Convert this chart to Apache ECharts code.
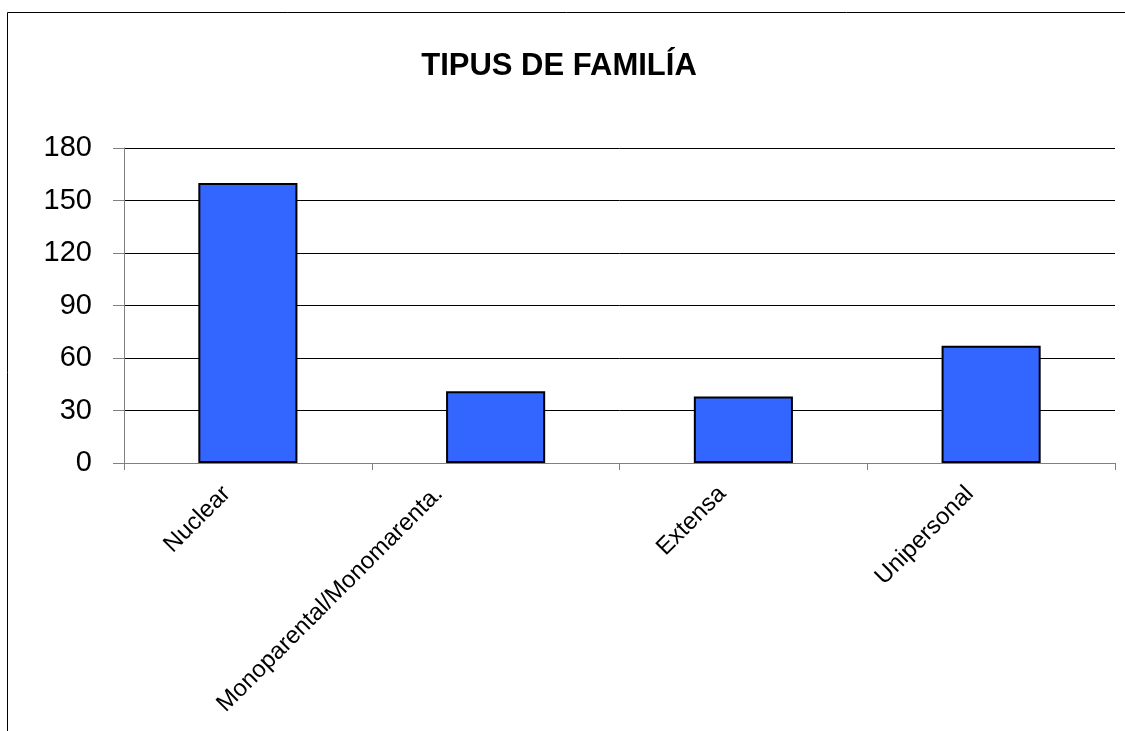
<!DOCTYPE html>
<html>
<head>
<meta charset="utf-8">
<script src="https://cdn.jsdelivr.net/npm/echarts@6/dist/echarts.min.js"></script>
<style>
html,body{margin:0;padding:0;background:#fff;}
#main{width:1125px;height:731px;}
</style>
</head>
<body>
<div id="main"></div>
<script>
const categories = ['Nuclear', 'Monoparental/Monomarenta.', 'Extensa', 'Unipersonal'];
const values = [160, 41, 38, 67];
const yTicks = [0, 30, 60, 90, 120, 150, 180];

const categoryItems = categories.map(function (c, i) {
  return i === 1 ? {value: c, textStyle: {padding: [0, 55, 13, 0], verticalAlign: 'bottom'}} : c;
});

const chart = echarts.init(document.getElementById('main'));
chart.setOption({
  backgroundColor: '#ffffff',
  animation: false,
  title: {
    text: 'TIPUS DE FAMILÍA',
    left: 554, top: 46, textAlign: 'center',
    textStyle: {fontFamily: 'Liberation Sans, Arial', fontSize: 31, fontWeight: 'bold', color: '#000'}
  },
  graphic: [{
    type: 'rect', shape: {x: 7.5, y: 12.5, width: 1130, height: 730},
    style: {fill: 'none', stroke: '#000', lineWidth: 1}, silent: true
  }],
  grid: {left: 124, top: 148, width: 991, height: 315, containLabel: false, outerBoundsMode: 'none'},
  xAxis: {
    type: 'category', data: categoryItems,
    axisLine: {lineStyle: {color: '#808080', width: 1}},
    axisTick: {show: true, length: 7, alignWithLabel: false, lineStyle: {color: '#808080'}},
    axisLabel: {rotate: 45, fontFamily: 'Liberation Sans, Arial', fontSize: 24, color: '#000', margin: 6, padding: [0, 30, 0, 0], interval: 0}
  },
  yAxis: {
    type: 'value', min: yTicks[0], max: yTicks[yTicks.length - 1], interval: 30,
    axisLine: {show: true, lineStyle: {color: '#808080', width: 1}},
    axisTick: {show: true, length: 11, lineStyle: {color: '#808080'}},
    splitLine: {lineStyle: {color: '#000', width: 1}},
    axisLabel: {fontFamily: 'Liberation Sans, Arial', fontSize: 29, color: '#000', margin: 32}
  },
  series: [{
    type: 'bar', data: values, barWidth: '40%',
    itemStyle: {color: '#3366FF', borderColor: '#000', borderWidth: 2}
  }]
});
</script>
</body>
</html>
